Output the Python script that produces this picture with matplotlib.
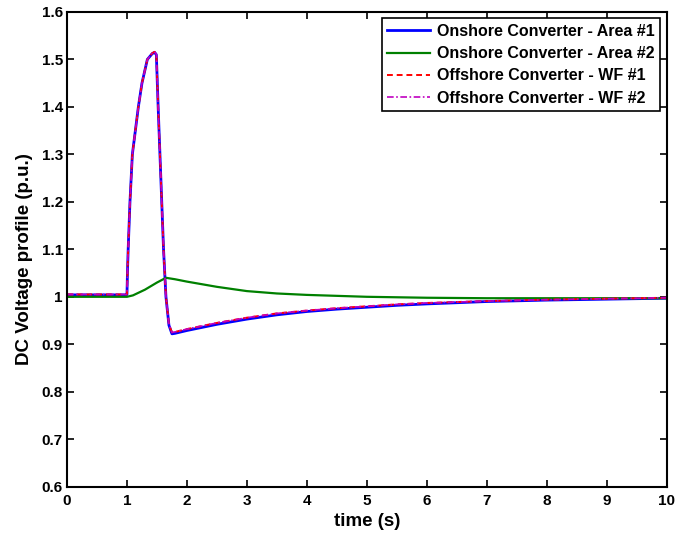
import numpy as np
import matplotlib
matplotlib.use("Agg")
import matplotlib.pyplot as plt

plt.rcParams['font.family'] = ['Liberation Sans', 'DejaVu Sans']
plt.rcParams['font.weight'] = 'bold'

# --- DATA ---
t_on1 = [0, 0.99, 1.0, 1.01, 1.02, 1.05, 1.09, 1.19, 1.25, 1.34, 1.42, 1.46, 1.49,
         1.52, 1.55, 1.58, 1.61, 1.65, 1.70, 1.75, 1.80, 2.0, 2.5, 3.0, 3.5, 4.0,
         4.5, 5.0, 5.5, 6.0, 7.0, 8.0, 9.0, 10.0]
v_on1 = [1.004, 1.004, 1.005, 1.06, 1.10, 1.20, 1.30, 1.40, 1.45, 1.50, 1.512, 1.515, 1.51,
         1.40, 1.30, 1.20, 1.10, 1.00, 0.94, 0.922, 0.923, 0.929, 0.942, 0.953, 0.962, 0.969,
         0.974, 0.978, 0.982, 0.985, 0.990, 0.993, 0.995, 0.997]

t_on2 = [0, 1.0, 1.1, 1.3, 1.5, 1.65, 1.8, 2.0, 2.5, 3.0, 3.5, 4.0, 5.0, 6.0, 7.0, 8.0, 10.0]
v_on2 = [1.0, 1.0, 1.003, 1.015, 1.03, 1.040, 1.037, 1.032, 1.021, 1.012, 1.007, 1.004,
         1.000, 0.998, 0.997, 0.997, 0.997]

t_wf1 = t_on1
v_wf1 = [1.005, 1.005, 1.006, 1.06, 1.10, 1.20, 1.30, 1.40, 1.45, 1.50, 1.513, 1.516, 1.511,
         1.40, 1.30, 1.20, 1.10, 1.00, 0.942, 0.925, 0.926, 0.932, 0.945, 0.956, 0.965, 0.971,
         0.976, 0.980, 0.984, 0.987, 0.991, 0.994, 0.996, 0.998]

t_wf2 = t_on1
v_wf2 = [1.005, 1.005, 1.006, 1.06, 1.10, 1.20, 1.30, 1.40, 1.45, 1.50, 1.513, 1.516, 1.511,
         1.40, 1.30, 1.20, 1.10, 1.00, 0.942, 0.925, 0.926, 0.932, 0.945, 0.956, 0.965, 0.971,
         0.976, 0.980, 0.984, 0.987, 0.991, 0.994, 0.996, 0.998]

labels = ['Onshore Converter - Area #1', 'Onshore Converter - Area #2',
          'Offshore Converter - WF #1', 'Offshore Converter - WF #2']

x_ticks = np.arange(0, 11, 1)
y_ticks = [0.6, 0.7, 0.8, 0.9, 1.0, 1.1, 1.2, 1.3, 1.4, 1.5, 1.6]
y_tick_labels = ['0.6', '0.7', '0.8', '0.9', '1', '1.1', '1.2', '1.3', '1.4', '1.5', '1.6']

fig = plt.figure(figsize=(6.98, 5.34), dpi=100)
ax = fig.add_axes([0.096, 0.0886, 0.859, 0.889])

ax.plot(t_on1, v_on1, color='#0000ff', lw=2.0, label=labels[0])
ax.plot(t_on2, v_on2, color='#008000', lw=1.6, label=labels[1])
ax.plot(t_wf1, v_wf1, color='#ff0000', lw=1.4, ls=(0, (3, 2)), label=labels[2])
ax.plot(t_wf2, v_wf2, color='#c000c0', lw=1.2, ls=(0, (4, 1.5, 1, 1.5)), label=labels[3])

ax.set_xlim(0, 10)
ax.set_ylim(0.6, 1.6)
ax.set_xticks(x_ticks)
ax.set_yticks(y_ticks)
ax.set_yticklabels(y_tick_labels)
ax.tick_params(direction='in', top=True, right=True, length=5, width=1.2,
               labelsize=11)
ax.tick_params(axis='x', pad=5)
ax.tick_params(axis='y', pad=3)
for lbl in ax.get_xticklabels() + ax.get_yticklabels():
    lbl.set_fontweight('bold')
for sp in ax.spines.values():
    sp.set_linewidth(1.5)

ax.set_xlabel('time (s)', fontsize=13.5, fontweight='bold', labelpad=4)
ax.set_ylabel('DC Voltage profile (p.u.)', fontsize=13.5, fontweight='bold')
ax.yaxis.set_label_coords(-0.057, 0.48)

leg = ax.legend(loc='upper right', fontsize=11.5, frameon=True, fancybox=False,
                handlelength=2.7, borderpad=0.35, labelspacing=0.45,
                handletextpad=0.4, borderaxespad=0.4)
leg.get_frame().set_edgecolor('black')
leg.get_frame().set_linewidth(1.2)
leg.get_frame().set_alpha(1)
for txt in leg.get_texts():
    txt.set_fontweight('bold')

fig.savefig('out.png', dpi=100)
